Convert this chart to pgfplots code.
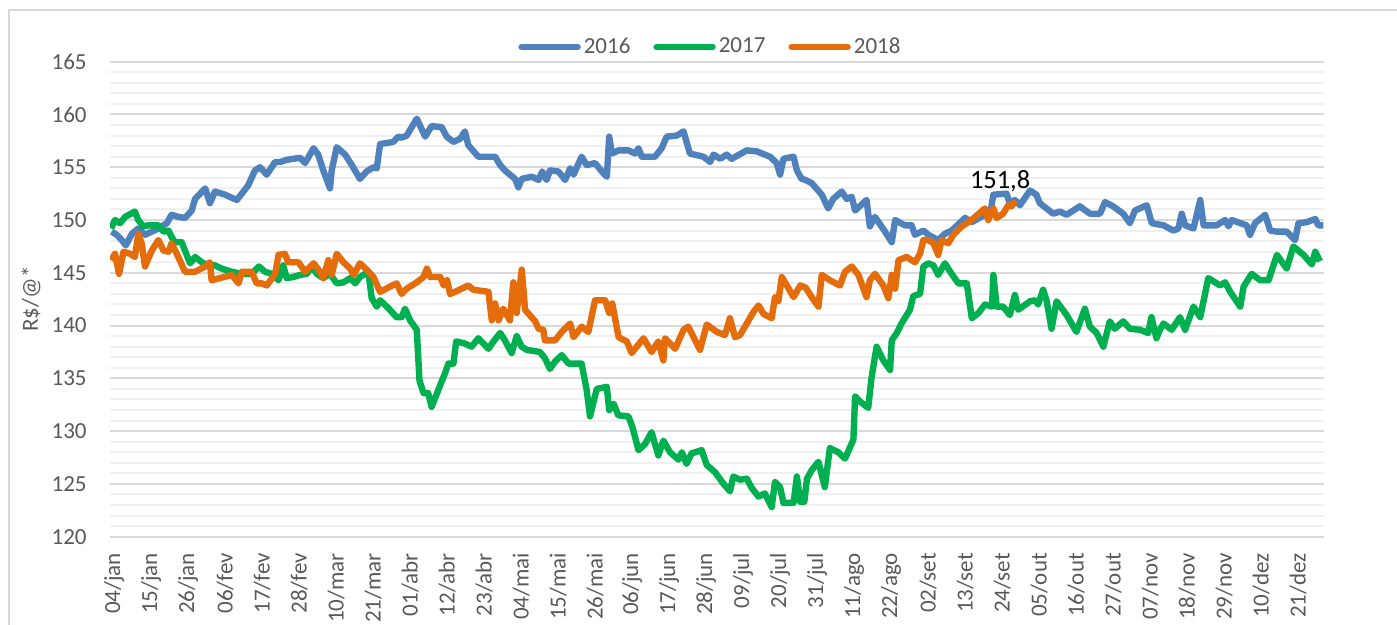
\documentclass[border=0pt]{standalone}
\usepackage{fontspec}
\setmainfont{Carlito}
\usepackage{pgfplots}
\pgfplotsset{compat=1.18}
\definecolor{c16}{RGB}{79,129,189}
\definecolor{c17}{RGB}{0,176,80}
\definecolor{c18}{RGB}{228,108,10}
\definecolor{txt}{RGB}{89,89,89}
\begin{document}
\begin{tikzpicture}
\useasboundingbox (0,0) rectangle (698.5pt,-312.5pt);
\draw[black!15, line width=0.7pt] (4.5pt,-312.5pt) -- (4.5pt,-5pt) -- (698.5pt,-5pt);
\node[rotate=90, font=\fontsize{11.5}{13}\selectfont, text=txt] at (15.5pt,-149.5pt) {R\$/@*};
\begin{axis}[
  at={(55pt,-268.35pt)}, anchor=south west,
  scale only axis, width=607pt, height=237.5pt,
  xmin=2.8, xmax=363.7, ymin=120, ymax=165,
  /pgf/number format/assume math mode=true,
  axis line style={draw=none},
  major tick length=0pt, minor tick length=0pt,
  ytick={120,125,...,165},
  minor y tick num=4,
  ymajorgrids, yminorgrids,
  major grid style={draw=black!15, line width=1pt},
  minor grid style={draw=black!6, line width=1pt},
  xtick={4,15,...,356},
  xticklabels={04/jan,15/jan,26/jan,06/fev,17/fev,28/fev,10/mar,21/mar,01/abr,12/abr,23/abr,04/mai,15/mai,26/mai,06/jun,17/jun,28/jun,09/jul,20/jul,31/jul,11/ago,22/ago,02/set,13/set,24/set,05/out,16/out,27/out,07/nov,18/nov,29/nov,10/dez,21/dez},
  tick label style={font=\fontsize{11.5}{13}\selectfont, text=txt},
  yticklabel style={anchor=east, inner sep=0pt, xshift=-11.5pt},
  xticklabel style={rotate=90, anchor=east, inner sep=0pt, xshift=-8pt},
  legend columns=3,
  legend image code/.code={\draw[#1, line cap=round] (0pt,0pt) -- (28pt,0pt);},
  legend style={at={(0.495,1)}, anchor=center, yshift=7.35pt, draw=none, fill=none,
    font=\fontsize{11.5}{13}\selectfont, text=txt,
    nodes={inner sep=1.5pt},
    /tikz/every even column/.append style={column sep=10pt}},
  every axis plot/.append style={line width=3.2pt, line join=round, no markers},
]
\addplot[c16] coordinates {
(3.3,148.9) (4.8,148.6) (6.3,148.1) (7.5,147.6) (9.3,148.7) (11.2,149.2) (13.2,148.6) (15.2,148.9) (17.2,149.2) (19.7,149.7) (21.1,150.5) (23.1,150.3) (25.1,150.2) (27.1,150.9) (28.1,152.0) (31.1,153.0) (32.5,151.6) (34.0,152.7) (37,152.4) (40.5,151.9) (42,152.5) (43.9,153.3) (45.9,154.7) (47.4,155.0) (49.4,154.3) (51.9,155.5) (53.4,155.5) (55.3,155.7) (57.3,155.8) (59.3,155.9) (60.8,155.4) (63.3,156.8) (64.7,156.2) (66.2,154.7) (68.2,153.0) (68.7,154.7) (70.2,156.9) (72.7,156.2) (74.7,155.2) (77.1,153.9) (79.1,154.6) (81.1,155.0) (82.1,154.9) (83.1,157.2) (85.1,157.3) (87,157.4) (88.5,157.9) (89.5,157.8) (91,158.0) (94,159.6) (96.5,157.9) (98.4,158.9) (101.4,158.8) (102.9,157.9) (104.9,157.4) (106.9,157.7) (108.3,158.4) (109.3,157.1) (112.3,156.0) (115.3,156.0) (117.3,156.0) (118.8,155.2) (120.2,154.7) (123.2,153.9) (124.2,153.1) (125.2,153.9) (128.2,154.1) (130.2,153.8) (131.3,154.6) (132.6,153.8) (133.6,154.7) (136.1,154.6) (138.1,153.8) (139.6,154.9) (140.6,154.3) (143,156.0) (144.5,155.2) (147,155.4) (149,154.6) (150.5,154.1) (151.2,157.9) (152,156.3) (154,156.6) (156.9,156.6) (158.9,156.3) (159.9,156.8) (160.9,156.0) (164.8,156.0) (166.8,156.8) (168.3,157.9) (171.3,158.0) (173.3,158.4) (175.2,156.3) (179.2,156.0) (181.2,155.5) (182.2,156.2) (184.2,155.8) (186.1,156.2) (187.6,155.8) (192.1,156.6) (195.1,156.5) (199,156.0) (201,155.4) (202,154.3) (203,155.8) (206,156.0) (207,154.7) (208.4,153.9) (209.5,153.8) (211.4,153.5) (214.4,152.4) (216.3,151.1) (217.8,152.0) (220.3,152.7) (221.8,152.0) (223.3,152.2) (224.3,150.9) (227.7,151.9) (228.7,149.4) (230.2,150.3) (233.2,148.9) (235.2,147.9) (236.2,150.0) (239.1,149.5) (241.1,149.5) (242.1,148.6) (244.6,149.0) (246.1,148.6) (249,148.1) (251,148.7) (253,149.0) (257,150.2) (259,149.8) (262.9,150.5) (264.5,150.6) (265.4,152.4) (269.3,152.5) (270.3,151.6) (271.8,151.9) (273.3,151.4) (276.3,152.8) (278.2,152.4) (279.2,151.6) (283.2,150.6) (285.2,150.8) (287.2,150.5) (291.1,151.3) (294.1,150.6) (297.1,150.6) (298.6,151.7) (301,151.3) (304,150.6) (306,149.7) (307.5,150.9) (311,151.4) (312.5,149.7) (316,149.5) (318.9,149.0) (320.4,149.2) (321.4,150.6) (322.4,149.5) (324.9,149.2) (326.9,151.9) (327.9,149.5) (331.8,149.5) (334.3,150.0) (335.3,149.4) (336.3,150.0) (338.8,149.7) (340.7,149.5) (341.7,148.6) (343.2,149.7) (346.2,150.5) (347.7,149.0) (349.7,148.9) (352.6,148.9) (355.1,148.1) (356.1,149.7) (358.6,149.8) (361.1,150.1) (362,149.5) (363.5,149.5)
};
\addlegendentry{2016}
\addplot[c17] coordinates {
(3.1,149.2) (4.3,150.0) (5.8,149.7) (7.3,150.3) (10.2,150.8) (11.2,150.0) (12.7,149.4) (14.2,149.5) (17.2,149.5) (18.7,148.9) (20.2,149.0) (21.1,148.4) (22.1,147.9) (24.1,147.9) (25.6,146.7) (26.6,145.9) (28.1,146.5) (30.1,146.0) (32.0,145.7) (34,145.7) (36,145.4) (39,145.1) (42,144.9) (44.9,144.9) (47.1,145.6) (48.9,145.1) (50.9,144.9) (52.9,144.3) (54.3,145.7) (55.3,144.5) (57.3,144.6) (59.3,144.8) (61.3,144.9) (62.8,145.6) (64.3,144.9) (66.2,144.5) (68.2,144.9) (70.2,144.0) (72.2,144.1) (74.2,144.5) (75.7,144.0) (77.1,144.6) (79.6,145.1) (80.6,142.6) (82.1,141.8) (83.1,142.4) (85.1,141.8) (88,140.8) (89.5,140.8) (90.5,141.6) (92,140.5) (94,139.6) (94.8,134.8) (96,133.6) (97.4,133.6) (98.4,132.3) (100.4,133.9) (102.4,135.5) (103.4,136.4) (104.9,136.4) (105.7,138.5) (108.3,138.3) (110.3,138.0) (112.3,138.8) (115.3,137.8) (116.8,138.5) (118.8,139.3) (120.2,138.6) (122.2,137.4) (123.7,139.0) (125.2,138.0) (126.7,137.7) (130.6,137.5) (132.1,136.9) (133.6,135.9) (135.1,136.6) (137.1,137.2) (139.1,136.4) (143,136.4) (144.5,133.9) (145.5,131.4) (147.5,134.0) (150.5,134.2) (151.2,132.0) (152.5,132.6) (153.9,131.5) (156.9,131.4) (158.1,130.4) (159.9,128.2) (161.9,128.8) (163.8,129.9) (165.8,127.7) (167.3,129.1) (169.3,128.0) (171.8,127.3) (172.8,128.0) (174.2,126.9) (175.7,127.9) (178.7,128.2) (180.2,126.8) (182.7,126.1) (185.2,125.0) (187.1,124.3) (188.1,125.7) (190.1,125.4) (192.1,125.5) (193.6,124.6) (195.6,123.8) (197.5,124.1) (199.5,122.8) (200.5,125.2) (202,124.7) (203,123.2) (206,123.2) (207,125.7) (208,123.3) (209.2,123.3) (210,125.5) (211.4,126.3) (213.4,127.1) (215.3,124.7) (216.8,128.4) (219.3,128.0) (221.3,127.4) (223.8,129.2) (224.3,133.3) (225.8,132.8) (228.2,132.2) (229.2,135.1) (230.7,138.0) (232.7,136.7) (234.7,135.8) (235.2,138.6) (236.7,139.3) (238.1,140.2) (240.6,141.5) (241.6,142.8) (243.6,143.0) (244.6,145.6) (246.1,145.9) (247.6,145.7) (249,144.8) (251,145.9) (253,144.9) (255,144.0) (257.5,144.0) (259,140.7) (261,141.2) (262.9,142.0) (265.0,141.8) (265.4,144.8) (266.4,141.8) (268.3,141.8) (270.3,141.0) (271.8,142.9) (272.8,141.5) (276.3,142.3) (277.8,142.4) (278.7,142.0) (280.2,143.4) (281.2,142.4) (282.7,139.7) (284.2,142.3) (287.2,141.0) (290.1,139.4) (292.6,141.6) (294.1,139.9) (296.1,139.3) (298.1,138.0) (300,140.4) (301.5,139.7) (304,140.4) (306,139.7) (309,139.6) (311.4,139.3) (312.4,140.8) (313.9,138.8) (314.9,139.6) (316,140.2) (318.4,139.6) (320.9,140.8) (322.4,139.6) (324.9,141.8) (326.9,140.8) (329.3,144.5) (332.8,143.8) (334.3,144.1) (335.8,143.2) (338.8,141.8) (339.8,143.7) (342.2,144.9) (344.7,144.3) (347.2,144.3) (349.7,146.7) (352.6,145.4) (354.6,147.5) (357.6,146.7) (360.1,145.8) (361.1,147.0) (362.5,146.1)
};
\addlegendentry{2017}
\addplot[c18] coordinates {
(3.1,146.2) (4.3,146.8) (5.5,144.9) (6.8,147.0) (8.8,146.8) (10.2,146.5) (11.2,148.7) (12.2,147.8) (13.2,145.6) (15.2,147.1) (17.2,148.1) (18.7,147.1) (20.2,147.0) (21.1,147.8) (23.1,146.5) (25.1,145.1) (28.1,145.1) (31.1,145.6) (32.5,146.0) (33,144.3) (35.5,144.5) (39,144.8) (41,144.0) (42,145.1) (44.9,145.1) (46.4,144.0) (47.9,144.0) (49.4,143.8) (51.9,144.9) (52.9,146.7) (54.8,146.8) (55.8,146.0) (58.8,146.0) (60.8,145.1) (63.3,145.9) (64.8,145.3) (66.2,144.5) (67.7,146.2) (68.7,144.8) (70.2,146.8) (72.2,146.0) (74.2,145.4) (75.2,144.8) (77.1,145.9) (79.1,145.3) (81.1,144.6) (83.1,143.2) (86.1,143.7) (88,144.0) (89.5,143.0) (91,143.5) (94,144.1) (96,144.6) (97,145.4) (98,144.6) (101,144.6) (102,143.8) (103,144.3) (103.9,143.0) (105.4,143.2) (109.3,143.8) (110.8,143.4) (115.3,143.2) (116.3,140.5) (117.3,142.1) (118.3,140.5) (119.7,141.6) (121.7,140.5) (122.7,144.1) (123.7,141.2) (125.2,145.3) (126.2,141.5) (129.2,140.4) (130.2,139.7) (131.6,139.6) (132.1,138.6) (135.1,138.6) (137.1,139.4) (139.6,140.2) (140.6,138.9) (143,139.9) (145,139.4) (147,142.4) (150,142.4) (151.2,141.2) (152.1,142.1) (154,138.9) (156.4,138.5) (157.9,137.4) (161.4,138.8) (163.8,137.5) (165.8,138.5) (167.3,136.7) (167.8,138.8) (170.8,137.8) (173.3,139.6) (174.7,139.9) (178.2,137.7) (180.2,140.1) (183.2,139.4) (185.6,139.1) (187.1,140.7) (188.6,138.9) (190.1,139.1) (192.1,140.2) (194.1,141.3) (195.6,141.9) (197.1,141.1) (199.5,140.7) (200.5,142.7) (201.5,142.3) (202.5,144.6) (204,143.8) (206,142.7) (208,143.8) (209.6,143.6) (211.4,142.7) (213.4,141.8) (214.4,144.8) (216.8,144.3) (219.8,143.8) (221.3,145.1) (223.3,145.6) (225.3,144.8) (227.7,142.7) (228.7,144.3) (230.2,144.9) (232.7,143.8) (234.2,142.6) (235.2,144.8) (236.2,143.5) (237.2,146.2) (239.6,146.5) (242.1,146.0) (243.6,146.8) (244.6,148.1) (246.1,148.1) (247.6,147.8) (249,146.7) (250,148.1) (252,147.8) (253.5,148.6) (256,149.4) (258,149.8) (260,150.3) (262.9,151.1) (263.9,150.0) (265.4,151.1) (266.4,150.2) (268.3,150.6) (269.8,151.4) (270.8,151.3) (272.0,151.8)
};
\addlegendentry{2018}
\node[font=\fontsize{13.2}{15}\selectfont, text=black] at (axis cs:267.4,153.7) {151,8};
\end{axis}
\end{tikzpicture}
\end{document}
